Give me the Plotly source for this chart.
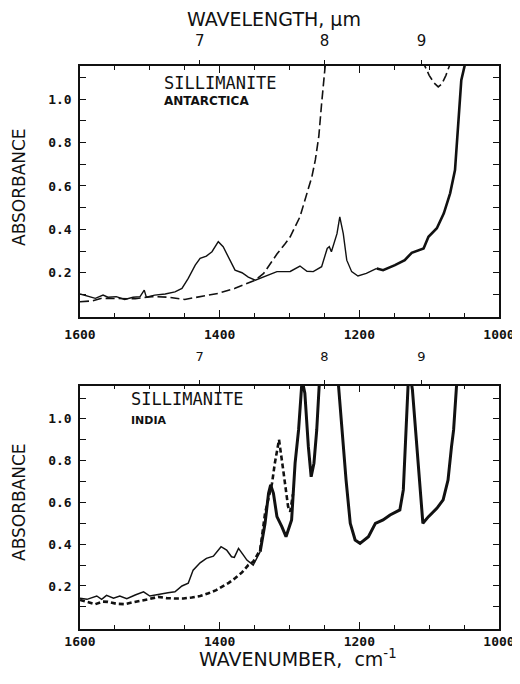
import plotly.graph_objects as go

# ---------------- data ----------------
# Top panel: Sillimanite, Antarctica
top_solid_thin_x = [1600, 1578, 1567, 1560, 1548, 1536, 1524, 1514, 1508, 1505, 1493, 1478, 1464, 1454,
                    1445, 1435, 1428, 1419, 1411, 1402, 1395, 1385, 1378, 1368, 1359, 1349, 1338, 1318,
                    1299, 1285, 1275, 1266, 1254, 1246, 1243, 1240, 1232, 1228, 1223, 1218, 1211, 1202,
                    1190, 1175]
top_solid_thin_y = [0.102, 0.082, 0.097, 0.087, 0.09, 0.077, 0.087, 0.09, 0.12, 0.087, 0.097, 0.102, 0.112, 0.128,
                    0.174, 0.235, 0.266, 0.277, 0.297, 0.343, 0.32, 0.258, 0.212, 0.2, 0.18, 0.166, 0.18, 0.205,
                    0.206, 0.231, 0.207, 0.205, 0.228, 0.312, 0.32, 0.297, 0.38, 0.458, 0.38, 0.258, 0.205, 0.185,
                    0.197, 0.22]
top_solid_thick_x = [1175, 1166, 1149, 1135, 1125, 1108, 1101, 1089, 1079, 1070, 1063, 1060, 1057, 1054, 1049, 1045]
top_solid_thick_y = [0.22, 0.212, 0.235, 0.258, 0.292, 0.312, 0.366, 0.405, 0.474, 0.566, 0.673, 0.796, 0.95, 1.088, 1.157, 1.25]

top_dash_x = [1600, 1583, 1569, 1545, 1521, 1497, 1473, 1450, 1426, 1402, 1378, 1359, 1349, 1337, 1318,
              1306, 1299, 1285, 1278, 1273, 1268, 1263, 1258, 1254, 1249, 1244, None,
              1110, 1100, 1093, 1087, 1082, 1076, 1068]
top_dash_y = [0.066, 0.07, 0.082, 0.082, 0.08, 0.09, 0.087, 0.077, 0.09, 0.105, 0.128, 0.151, 0.166, 0.197, 0.286,
              0.335, 0.366, 0.458, 0.535, 0.58, 0.642, 0.72, 0.83, 0.98, 1.15, 1.25, None,
              1.18, 1.11, 1.075, 1.057, 1.07, 1.11, 1.18]

# Bottom panel: Sillimanite, India
bot_solid_thin_x = [1600, 1590, 1576, 1569, 1562, 1552, 1543, 1533, 1521, 1509, 1500, 1488, 1474, 1464, 1454,
                    1445, 1438, 1428, 1419, 1409, 1398, 1390, 1383, 1379, 1373, 1366, 1361, 1352, 1342]
bot_solid_thin_y = [0.141, 0.136, 0.152, 0.136, 0.155, 0.141, 0.152, 0.139, 0.157, 0.172, 0.152, 0.161, 0.168, 0.172, 0.2,
                    0.213, 0.276, 0.311, 0.332, 0.343, 0.388, 0.372, 0.34, 0.337, 0.38, 0.348, 0.324, 0.3, 0.364]
bot_solid_thick_x = [1342, 1335, 1330, 1327, 1323, 1318, 1311, 1305, 1297, 1292, 1287, 1282, 1278, 1273, 1269,
                     1265, 1261, 1256, 1232, 1225, 1219, 1213, 1206, 1199, 1187, 1177, 1166, 1156, 1142, 1137,
                     1133, 1129, 1124, 1118, 1113, 1109, 1101, 1089, 1080, 1073, 1068, 1065, 1059]
bot_solid_thick_y = [0.364, 0.5, 0.644, 0.684, 0.644, 0.532, 0.484, 0.436, 0.516, 0.788, 0.947, 1.187, 1.123, 0.867, 0.723,
                     0.788, 0.947, 1.25, 1.25, 0.947, 0.707, 0.5, 0.42, 0.404, 0.436, 0.5, 0.516, 0.54, 0.564, 0.66,
                     0.947, 1.25, 1.14, 0.867, 0.66, 0.5, 0.532, 0.572, 0.612, 0.707, 0.867, 0.947, 1.25]

bot_dash_x = [1600, 1590, 1578, 1568, 1560, 1548, 1536, 1524, 1512, 1500, 1488, 1476, 1464, 1452, 1440, 1428,
              1416, 1405, 1397, 1387, 1378, 1368, 1359, 1352, 1342, 1335, 1328, 1325, 1321, 1315, 1309, 1302,
              1299, 1295]
bot_dash_y = [0.133, 0.125, 0.113, 0.125, 0.124, 0.115, 0.113, 0.122, 0.129, 0.138, 0.148, 0.142, 0.14, 0.14, 0.145, 0.152,
              0.165, 0.18, 0.196, 0.215, 0.237, 0.265, 0.3, 0.316, 0.372, 0.548, 0.65, 0.692, 0.788, 0.9, 0.755, 0.58,
              0.556, 0.64]

# Axis tick labels
wavenumber_ticks = [1600, 1400, 1200, 1000]
absorbance_ticks = [0.2, 0.4, 0.6, 0.8, 1.0]
absorbance_labels = ["0.2", "0.4", "0.6", "0.8", "1.0"]
wavelength_ticks_um = [7, 8, 9]

# ---------------- figure ----------------
OFF = 8                   # default page body margin
W, H = 520 - OFF, 668     # figure size so the page fits the window without scrolling
BLACK = "#111111"
MONO = "DejaVu Sans Mono"
SANS = "DejaVu Sans"

def fx(px):
    return (px - OFF) / W

def fy(py):
    return 1 - (py - OFF) / H

fig = go.Figure()

def add(x, y, xa, ya, width, dash="solid"):
    fig.add_trace(go.Scatter(x=x, y=y, xaxis=xa, yaxis=ya, mode="lines",
                             line=dict(color=BLACK, width=width, dash=dash),
                             connectgaps=False, showlegend=False, hoverinfo="skip"))

add(top_solid_thin_x, top_solid_thin_y, "x", "y", 1.4)
add(top_solid_thick_x, top_solid_thick_y, "x", "y", 2.6)
add(top_dash_x, top_dash_y, "x", "y", 1.6, "9px,4px")
add(bot_solid_thin_x, bot_solid_thin_y, "x2", "y2", 1.5)
add(bot_solid_thick_x, bot_solid_thick_y, "x2", "y2", 3.0)
add(bot_dash_x, bot_dash_y, "x2", "y2", 2.6, "5px,3px")
# carriers for the wavelength (top) axes
fig.add_trace(go.Scatter(x=wavenumber_ticks, y=[None] * len(wavenumber_ticks), xaxis="x3", yaxis="y",
                         mode="lines", showlegend=False, hoverinfo="skip"))
fig.add_trace(go.Scatter(x=wavenumber_ticks, y=[None] * len(wavenumber_ticks), xaxis="x4", yaxis="y2",
                         mode="lines", showlegend=False, hoverinfo="skip"))

xdom = [fx(80), fx(499)]
top_dom = [fy(317), fy(66)]
bot_dom = [fy(629), fy(385.7)]

minor_x = list(range(1000, 1601, 50))
minor_y = [round(0.1 * i, 1) for i in range(1, 12)]

def xaxis_cfg(dom_anchor, standoff):
    return dict(domain=xdom, anchor=dom_anchor, range=[1600, 1000], autorange=False,
                showline=True, linecolor=BLACK, linewidth=1.5, mirror="ticks",
                ticks="inside", ticklen=7, tickwidth=1.3, tickcolor=BLACK,
                tickmode="array", tickvals=wavenumber_ticks,
                ticktext=[str(v) for v in wavenumber_ticks],
                tickfont=dict(family=MONO, size=13, color=BLACK, weight="bold"),
                ticklabelstandoff=standoff,
                minor=dict(tickmode="array", tickvals=minor_x, ticks="inside", ticklen=4,
                           tickwidth=1.2, tickcolor=BLACK, showgrid=False),
                showgrid=False, zeroline=False, automargin=False, fixedrange=True)

def yaxis_cfg(dom, anchor, rng):
    return dict(domain=dom, anchor=anchor, range=rng, autorange=False,
                showline=True, linecolor=BLACK, linewidth=1.5, mirror="ticks",
                ticks="inside", ticklen=6, tickwidth=1.3, tickcolor=BLACK,
                tickmode="array", tickvals=absorbance_ticks, ticktext=absorbance_labels,
                tickfont=dict(family=MONO, size=13, color=BLACK, weight="bold"),
                ticklabelstandoff=4,
                minor=dict(tickmode="array", tickvals=minor_y, ticks="inside", ticklen=6,
                           tickwidth=1.2, tickcolor=BLACK, showgrid=False),
                showgrid=False, zeroline=False, automargin=False, fixedrange=True)

def wl_axis(over, anchor, size, standoff):
    return dict(overlaying=over, anchor=anchor, side="top", range=[1600, 1000], autorange=False,
                showline=False, ticks="outside", ticklen=5, tickwidth=1.3, tickcolor=BLACK,
                tickmode="array", tickvals=[10000.0 / w for w in wavelength_ticks_um],
                ticktext=[str(w) for w in wavelength_ticks_um],
                tickfont=dict(family=SANS, size=size, color=BLACK),
                ticklabelstandoff=standoff,
                showgrid=False, zeroline=False, automargin=False, fixedrange=True)

fig.update_layout(
    width=W, height=H,
    margin=dict(l=0, r=0, t=0, b=0, pad=0),
    paper_bgcolor="white", plot_bgcolor="white",
    xaxis=xaxis_cfg("y", 5),
    yaxis=yaxis_cfg(top_dom, "x", [-0.004, 1.153]),
    xaxis2=xaxis_cfg("y2", 0),
    yaxis2=yaxis_cfg(bot_dom, "x2", [-0.006, 1.159]),
    xaxis3=wl_axis("x", "y", 15, 8),
    xaxis4=wl_axis("x2", "y2", 13, 14),
)

def ann(text, px, py, size, family=SANS, weight="normal", xanchor="left", angle=0):
    fig.add_annotation(text=text, x=fx(px), y=fy(py), xref="paper", yref="paper",
                       xanchor=xanchor, yanchor="middle", showarrow=False, textangle=angle,
                       font=dict(family=family, size=size, color=BLACK, weight=weight))

ann("WAVELENGTH, \u03bcm", 274, 19, 19, xanchor="center")
ann("WAVENUMBER,  cm<sup>-1</sup>", 298, 658, 19, xanchor="center")
ann("ABSORBANCE", 19, 187, 17, xanchor="center", angle=-90)
ann("ABSORBANCE", 19, 502, 17, xanchor="center", angle=-90)
ann("SILLIMANITE", 162, 83, 17, family=MONO)
ann("ANTARCTICA", 162, 101, 12, weight="bold")
ann("SILLIMANITE", 129, 399, 17, family=MONO)
ann("INDIA", 129, 420, 11, weight="bold")

fig.write_html("out.html")
